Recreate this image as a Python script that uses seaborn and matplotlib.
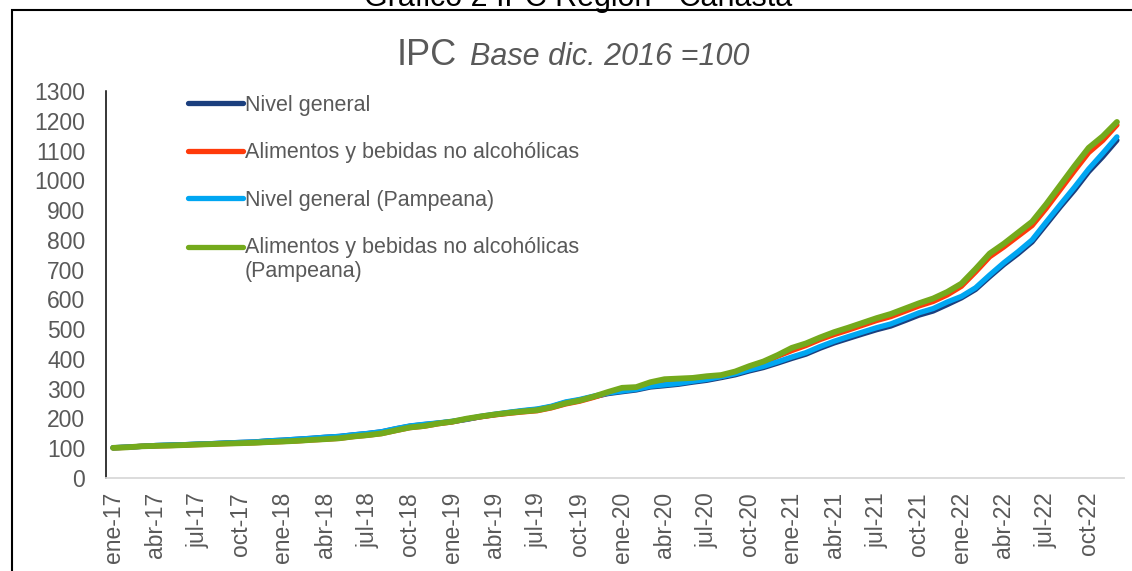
import numpy as np
import pandas as pd
import matplotlib
matplotlib.use("Agg")
import matplotlib.pyplot as plt
import seaborn as sns
from matplotlib.patches import Rectangle

# ---------------- data ----------------
month_abbr = ["ene", "feb", "mar", "abr", "may", "jun", "jul", "ago", "sep", "oct", "nov", "dic"]
years = ["17", "18", "19", "20", "21", "22"]
categories = [f"{m}-{y}" for y in years for m in month_abbr]

nivel_general = [
    101.6, 103.7, 106.2, 109.0, 110.5, 111.8, 113.8, 115.4, 117.6, 119.4, 121.0, 124.8,
    127.0, 130.1, 133.1, 136.8, 139.6, 144.8, 149.3, 155.1, 165.2, 174.2, 179.6, 184.3,
    189.6, 196.8, 206.0, 213.1, 219.6, 225.5, 230.5, 239.6, 253.7, 262.1, 273.2, 283.4,
    289.8, 295.7, 305.6, 310.1, 314.9, 322.0, 328.2, 337.1, 346.6, 359.7, 371.0, 385.9,
    401.5, 415.9, 435.9, 453.7, 468.7, 483.6, 498.1, 510.4, 528.5, 547.1, 560.9, 582.5,
    605.0, 633.4, 676.1, 716.9, 753.2, 793.0, 851.8, 911.1, 967.3, 1028.7, 1079.3, 1134.6,
]
alimentos = [
    101.2, 103.1, 106.4, 107.8, 108.9, 110.5, 112.3, 113.8, 115.6, 116.8, 118.3, 120.6,
    122.5, 124.6, 127.7, 130.3, 133.2, 139.2, 143.6, 149.3, 159.5, 169.2, 174.0, 182.3,
    188.4, 198.1, 205.4, 212.0, 217.3, 222.0, 226.0, 235.6, 248.6, 258.0, 271.0, 285.9,
    299.6, 301.9, 318.0, 327.8, 329.8, 331.8, 337.3, 340.8, 352.5, 370.0, 386.0, 409.0,
    428.0, 445.0, 465.0, 482.0, 497.0, 513.0, 529.0, 542.0, 560.0, 578.0, 593.0, 615.0,
    644.0, 692.0, 743.0, 776.0, 812.0, 848.0, 906.0, 969.0, 1032.0, 1093.0, 1134.0, 1186.0,
]
nivel_general_pampeana = [
    101.6, 103.8, 106.2, 109.1, 110.6, 111.9, 113.9, 115.5, 117.7, 119.5, 121.1, 124.9,
    127.2, 130.3, 133.3, 136.9, 139.8, 145.1, 149.7, 155.6, 165.9, 174.9, 180.4, 185.1,
    190.6, 197.9, 207.2, 214.3, 220.9, 226.9, 231.9, 241.1, 255.4, 263.9, 275.1, 285.5,
    292.0, 298.0, 308.2, 312.9, 317.8, 325.0, 331.4, 340.4, 350.2, 363.5, 375.1, 390.3,
    406.4, 421.1, 441.4, 459.5, 474.9, 490.1, 504.9, 517.5, 535.9, 555.0, 569.1, 591.2,
    610.0, 639.0, 682.0, 723.0, 760.0, 800.0, 860.0, 919.0, 977.0, 1038.0, 1091.0, 1146.0,
]
alimentos_pampeana = [
    101.2, 103.1, 106.5, 107.9, 109.0, 110.6, 112.4, 113.9, 115.7, 116.9, 118.4, 120.7,
    122.6, 124.8, 127.9, 130.5, 133.5, 139.5, 144.0, 149.8, 160.1, 169.9, 174.8, 183.2,
    189.5, 199.3, 206.8, 213.4, 218.9, 223.7, 227.8, 237.6, 250.9, 260.4, 273.6, 288.9,
    302.9, 305.3, 321.7, 331.8, 334.0, 336.2, 341.9, 345.7, 357.7, 375.8, 391.4, 412.8,
    437.0, 452.0, 472.0, 490.0, 505.0, 521.0, 537.0, 551.0, 569.0, 587.0, 603.0, 625.0,
    653.0, 702.0, 754.0, 787.0, 824.0, 861.0, 920.0, 984.0, 1048.0, 1109.0, 1148.0, 1196.0,
]

series_names = [
    "Nivel general",
    "Alimentos y bebidas no alcohólicas",
    "Nivel general (Pampeana)",
    "Alimentos y bebidas no alcohólicas\n(Pampeana)",
]
series_values = [nivel_general, alimentos, nivel_general_pampeana, alimentos_pampeana]
series_colors = ["#1B3F7E", "#FF3A0A", "#00A6F2", "#74AA1C"]
series_widths = [3.8, 3.8, 3.8, 4.2]

y_ticks = list(range(0, 1301, 100))
x_tick_labels = categories[::3]

# ---------------- style ----------------
sns.set_style("white")
plt.rcParams["font.family"] = ["Liberation Sans", "DejaVu Sans"]
TXT = "#595959"

W, H = 1132, 571
fig = plt.figure(figsize=(W / 100, H / 100), dpi=100)
ax = fig.add_axes([106 / W, 1 - 478 / H, (1124 - 106) / W, (478 - 91) / H])

for name, vals, col, lw in zip(series_names, series_values, series_colors, series_widths):
    df = pd.DataFrame({"mes": categories, "valor": vals})
    sns.lineplot(data=df, x="mes", y="valor", ax=ax, color=col, linewidth=lw,
                 label=name, sort=False, solid_capstyle="round", solid_joinstyle="round")

ax.set_xlim(-0.5, len(categories) - 0.5)
ax.set_ylim(0, 1300)
ax.set_xlabel("")
ax.set_ylabel("")

# y axis
ax.set_yticks(y_ticks)
ax.set_yticklabels([str(v) for v in y_ticks])
ax.tick_params(axis="y", direction="in", length=5, width=1.1, color="black",
               labelsize=16.5, labelcolor=TXT, pad=15)

# x axis: labels at category centres, tick marks at boundaries
pos = np.arange(len(categories))
ax.set_xticks(pos[::3])
ax.set_xticklabels(x_tick_labels, rotation=90)
ax.set_xticks(np.arange(-0.5, len(categories), 3), minor=True)
ax.tick_params(axis="x", which="major", length=0, labelsize=16.5, labelcolor=TXT, pad=10)
ax.tick_params(axis="x", which="minor", direction="out", length=4.5, width=1.1, color="#D9D9D9")

for s in ["top", "right"]:
    ax.spines[s].set_visible(False)
ax.spines["left"].set_color("black")
ax.spines["left"].set_linewidth(1.1)
ax.spines["bottom"].set_color("#D9D9D9")
ax.spines["bottom"].set_linewidth(1.3)
ax.grid(False)

# legend
leg = ax.legend(loc="upper left", bbox_to_anchor=(188 / W, 1 - 95 / H),
                bbox_transform=fig.transFigure, frameon=False, fontsize=15.5,
                handlelength=2.55, handletextpad=0.1, labelspacing=1.22, borderpad=0,
                borderaxespad=0)
for t in leg.get_texts():
    t.set_color(TXT)
for lh in leg.get_lines():
    lh.set_linewidth(3.8)
    lh.set_solid_capstyle("round")
# align the handle of the two-line entry with its first text line
last = leg.get_lines()[-1]
last.set_ydata(np.asarray(last.get_ydata(), dtype=float) + 9.3)

# titles
fig.text(457 / W, 1 - 65 / H, "IPC", ha="right", va="baseline", fontsize=26, color=TXT)
fig.text(470 / W, 1 - 65 / H, "Base dic. 2016 =100", ha="left", va="baseline",
         fontsize=22, style="italic", color=TXT)
fig.text(578 / W, 1 - 6 / H, "Gráfico 2 IPC Región - Canasta", ha="center", va="baseline",
         fontsize=22, color="black")

# outer frame
fig.patches.append(Rectangle((12 / W, -0.1), 1.2, 1.1 - 10 / H, transform=fig.transFigure,
                             fill=False, edgecolor="black", linewidth=1.5))

fig.savefig("out.png", dpi=100)
